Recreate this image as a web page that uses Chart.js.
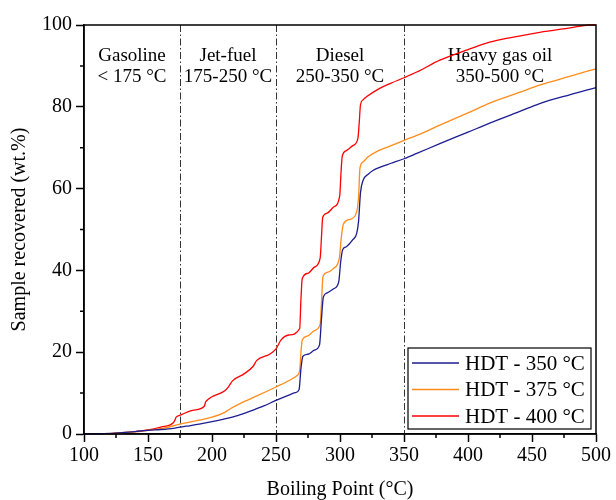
<!DOCTYPE html>
<html>
<head>
<meta charset="utf-8">
<script src="https://cdn.jsdelivr.net/npm/chart.js@4/dist/chart.umd.min.js"></script>
<style>
  html, body { margin: 0; padding: 0; background: #fff; }
  #wrap { width: 616px; height: 500px; }
</style>
</head>
<body>
<div id="wrap"><canvas id="chart" width="616" height="500"></canvas></div>
<script>
// Simulated distillation curves
const temp350 = [100, 110, 120, 130, 140, 150, 160, 170, 180, 190, 200, 210, 220, 230, 240, 250, 260, 265, 268, 269.5, 271, 275, 280, 284, 285.5, 287, 290, 295, 299, 300.5, 302, 305, 310, 313, 314.5, 316, 318, 322, 326, 331, 340, 350, 360, 378, 400, 417, 440, 456, 480, 500];
const rec350  = [0, 0.05, 0.15, 0.35, 0.6, 0.9, 1.1, 1.4, 1.9, 2.4, 3.0, 3.7, 4.5, 5.6, 6.8, 8.2, 9.5, 10.1, 10.8, 16, 19, 19.5, 20.5, 21.8, 28, 33.5, 34.5, 35.5, 37.2, 42, 45, 45.8, 47.5, 49, 52, 59, 62, 63.5, 64.5, 65.2, 66.2, 67.3, 68.6, 71, 73.8, 76, 78.8, 80.8, 83, 84.7];

const temp375 = [117, 125, 140, 150, 160, 175, 190, 200, 210, 215, 225, 235, 250, 261, 266, 268.5, 269.5, 270.5, 275, 280, 284.5, 285.5, 286.7, 290, 295, 299.5, 301, 302.6, 308, 313, 314.5, 315.6, 318, 322, 331, 340, 350, 360, 378, 400, 417, 440, 456, 480, 500];
const rec375  = [0, 0.2, 0.5, 0.9, 1.3, 2.4, 3.4, 4.1, 5.3, 6.3, 7.9, 9.3, 11.5, 13.2, 14.2, 15.5, 20, 23, 24, 25.3, 26.8, 32, 38.5, 39.5, 40.5, 43, 48, 51.3, 52.5, 54.3, 58, 65, 66.5, 67.8, 69.4, 70.5, 71.8, 73, 75.5, 78.5, 80.9, 83.5, 85.3, 87.5, 89.3];

const temp400 = [119, 125, 140, 150, 160, 170, 171, 172, 175, 185, 194, 195, 196, 200, 210, 213, 216, 225, 232, 235, 245, 250, 254, 260, 268.5, 269.5, 270.5, 275, 280, 284.5, 285.5, 286.5, 290, 295, 299.8, 300.8, 301.8, 305, 310, 314, 315, 316, 318, 321, 331, 340, 350, 360, 378, 400, 417, 440, 456, 480, 495, 500];
const rec400  = [0, 0.2, 0.6, 1.0, 1.7, 2.8, 3.4, 4.1, 4.6, 5.8, 6.8, 7.8, 8.2, 9.1, 10.6, 11.6, 13.0, 14.7, 16.5, 18.0, 19.5, 20.8, 23, 24.2, 25.8, 33, 38, 39.3, 40.8, 43, 48, 53, 54, 55.5, 58.3, 64, 68, 69.3, 70.5, 72.3, 76, 80.5, 81.7, 82.5, 84.5, 85.8, 87.1, 88.5, 91.4, 94, 95.8, 97.3, 98.2, 99.3, 100, 100];

const seriesNames = ['HDT - 350 °C', 'HDT - 375 °C', 'HDT - 400 °C'];
const seriesColors = ['#1c1c90', '#ff8c1a', '#ff0000'];

// Fraction cut points and their labels
const cutPoints = [100, 175, 250, 350, 500];
const fractionNames = ['Gasoline', 'Jet-fuel', 'Diesel', 'Heavy gas oil'];
const fractionRanges = ['< 175 °C', '175-250 °C', '250-350 °C', '350-500 °C'];

const FONT = "'Liberation Serif', 'Times New Roman', serif";

function toPoints(xs, ys) {
    return xs.map((x, i) => ({ x: x, y: ys[i] }));
}

// Draw dividers + labels behind the curves, frame/minor ticks/legend on top
const decorPlugin = {
    id: 'decor',
    beforeDatasetsDraw(chart) {
        const ctx = chart.ctx;
        const area = chart.chartArea;
        const xs = chart.scales.x;
        ctx.save();
        ctx.strokeStyle = '#333';
        ctx.lineWidth = 1;
        ctx.setLineDash([7, 2.5, 1.5, 2.5]);
        for (let i = 1; i < cutPoints.length - 1; i++) {
            const px = Math.round(xs.getPixelForValue(cutPoints[i])) + 0.5;
            ctx.beginPath();
            ctx.moveTo(px, area.top);
            ctx.lineTo(px, area.bottom);
            ctx.stroke();
        }
        ctx.setLineDash([]);
        ctx.fillStyle = '#000';
        ctx.font = '19px ' + FONT;
        ctx.textAlign = 'center';
        ctx.textBaseline = 'middle';
        for (let i = 0; i < fractionNames.length; i++) {
            const cx = xs.getPixelForValue((cutPoints[i] + cutPoints[i + 1]) / 2);
            ctx.fillText(fractionNames[i], cx, area.top + 31);
            ctx.fillText(fractionRanges[i], cx, area.top + 52);
        }
        ctx.restore();
    },
    afterDraw(chart) {
        const ctx = chart.ctx;
        const area = chart.chartArea;
        const xs = chart.scales.x;
        const ys = chart.scales.y;
        ctx.save();
        ctx.strokeStyle = '#000';
        ctx.lineWidth = 1.5;
        // minor ticks
        ctx.beginPath();
        for (let v = 125; v < 500; v += 50) {
            const px = xs.getPixelForValue(v);
            ctx.moveTo(px, area.bottom);
            ctx.lineTo(px, area.bottom + 4);
        }
        for (let v = 10; v < 100; v += 20) {
            const py = ys.getPixelForValue(v);
            ctx.moveTo(area.left, py);
            ctx.lineTo(area.left - 4, py);
        }
        ctx.stroke();
        // frame
        ctx.strokeRect(area.left, area.top, area.right - area.left, area.bottom - area.top);

        // legend box
        const bx = area.right - 188, by = area.bottom - 86, bw = 183, bh = 81;
        ctx.lineWidth = 1.2;
        ctx.fillStyle = '#fff';
        ctx.fillRect(bx, by, bw, bh);
        ctx.strokeRect(bx, by, bw, bh);
        ctx.font = '21px ' + FONT;
        ctx.textAlign = 'left';
        ctx.textBaseline = 'middle';
        chart.data.datasets.forEach((ds, i) => {
            const ly = by + 15 + i * 26.5;
            ctx.strokeStyle = ds.borderColor;
            ctx.lineWidth = 1.5;
            ctx.beginPath();
            ctx.moveTo(bx + 4, ly);
            ctx.lineTo(bx + 51, ly);
            ctx.stroke();
            ctx.fillStyle = '#000';
            ctx.fillText(ds.label, bx + 57, ly + 1);
        });
        ctx.restore();
    }
};

const ctx = document.getElementById('chart').getContext('2d');
const chart = new Chart(ctx, {
    type: 'scatter',
    data: {
        datasets: [
            { label: seriesNames[0], data: toPoints(temp350, rec350), borderColor: seriesColors[0] },
            { label: seriesNames[1], data: toPoints(temp375, rec375), borderColor: seriesColors[1] },
            { label: seriesNames[2], data: toPoints(temp400, rec400), borderColor: seriesColors[2] }
        ].map(ds => Object.assign(ds, {
            showLine: true,
            borderWidth: 1.3,
            pointRadius: 0,
            cubicInterpolationMode: 'monotone',
            fill: false,
            clip: 2
        }))
    },
    options: {
        responsive: false,
        animation: false,
        events: [],
        layout: { padding: { top: 25, right: 20, left: 0, bottom: 0 } },
        plugins: {
            legend: { display: false },
            tooltip: { enabled: false }
        },
        scales: {
            x: {
                type: 'linear',
                min: 100,
                max: 500,
                afterFit(scale) { scale.height = 66; },
                border: { display: true, color: '#000', width: 1.5 },
                grid: { drawOnChartArea: false, drawTicks: true, tickLength: 8, tickColor: '#000', tickWidth: 1.5 },
                ticks: {
                    stepSize: 50,
                    color: '#000',
                    padding: 2,
                    maxRotation: 0,
                    font: { family: FONT, size: 20 }
                },
                title: {
                    display: true,
                    text: 'Boiling Point (°C)',
                    color: '#000',
                    padding: 0,
                    font: { family: FONT, size: 20, lineHeight: 1 }
                }
            },
            y: {
                type: 'linear',
                min: 0,
                max: 100,
                afterFit(scale) { scale.width = 84; },
                border: { display: true, color: '#000', width: 1.5 },
                grid: { drawOnChartArea: false, drawTicks: true, tickLength: 8, tickColor: '#000', tickWidth: 1.5 },
                ticks: {
                    stepSize: 20,
                    color: '#000',
                    padding: 4,
                    font: { family: FONT, size: 20 }
                },
                title: {
                    display: true,
                    text: 'Sample recovered (wt.%)',
                    color: '#000',
                    padding: 10,
                    font: { family: FONT, size: 20, lineHeight: 1 }
                }
            }
        }
    },
    plugins: [decorPlugin]
});
</script>
</body>
</html>
